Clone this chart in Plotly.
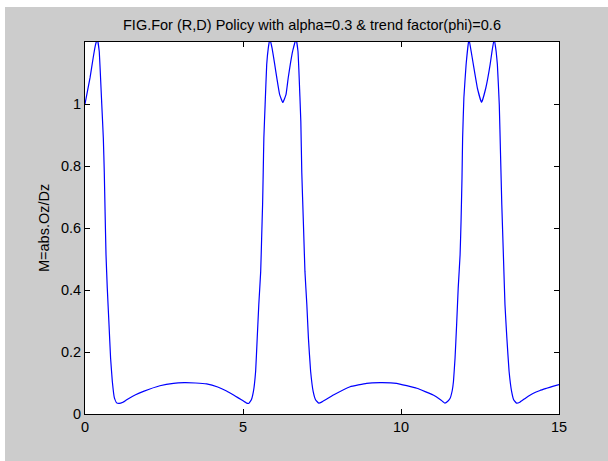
import plotly.graph_objects as go

# frequency (x) and magnitude M (y)
x_vals = [0, 0.16, 0.26, 0.33, 0.39, 0.45, 0.53, 0.58, 0.61, 0.635, 0.665, 0.705, 0.76, 0.81, 0.865, 0.93, 1.0, 1.08,
          1.2, 1.32, 1.6, 1.85, 2.37, 2.8, 3.14, 3.5, 3.85, 4.2, 4.48, 4.75, 4.95, 5.1, 5.18,
          5.26, 5.33, 5.40, 5.45, 5.50, 5.56, 5.59, 5.62, 5.64, 5.66, 5.70, 5.75, 5.80, 5.85, 5.92, 6.0, 6.07, 6.16, 6.26,
          6.36, 6.43, 6.50, 6.57, 6.68, 6.74, 6.77, 6.83, 6.86, 6.91, 6.96, 7.02, 7.07, 7.14, 7.22, 7.30, 7.40,
          7.5, 7.86, 8.39, 8.91, 9.34, 9.86, 10.5, 11.02, 11.25, 11.39,
          11.48, 11.55, 11.62, 11.66, 11.71, 11.76, 11.81, 11.87, 11.90, 11.93, 11.95, 11.99, 12.06, 12.15, 12.22, 12.29,
          12.42, 12.55, 12.68, 12.82, 12.88, 12.95, 13.01, 13.05, 13.11, 13.15, 13.19, 13.24, 13.29, 13.35, 13.42, 13.50,
          13.57, 13.66,
          13.76, 13.95, 14.19, 14.4, 14.61, 14.8, 15.0]
m_vals = [1.0, 1.085, 1.15, 1.19, 1.21, 1.17, 1.0, 0.89, 0.78, 0.654, 0.514, 0.406, 0.288, 0.18, 0.105, 0.052, 0.036, 0.034,
          0.038, 0.046, 0.062, 0.073, 0.091, 0.099, 0.101, 0.1, 0.097, 0.087, 0.074, 0.058, 0.046, 0.036, 0.034,
          0.045, 0.073, 0.138, 0.245, 0.353, 0.46, 0.568, 0.675, 0.78, 0.89, 0.998, 1.127, 1.18, 1.21, 1.18, 1.13, 1.084, 1.03, 1.005,
          1.03, 1.084, 1.13, 1.17, 1.21, 1.17, 1.105, 0.944, 0.78, 0.62, 0.46, 0.353, 0.245, 0.138, 0.073, 0.045, 0.035,
          0.039, 0.061, 0.088, 0.099, 0.101, 0.099, 0.083, 0.061, 0.046, 0.035,
          0.041, 0.05, 0.075, 0.105, 0.18, 0.288, 0.406, 0.514, 0.62, 0.76, 0.89, 1.02, 1.127, 1.21, 1.17, 1.127,
          1.05, 1.005, 1.05, 1.127, 1.17, 1.21, 1.17, 1.127, 0.998, 0.836, 0.675, 0.514, 0.353, 0.245, 0.138, 0.073,
          0.045, 0.035,
          0.038, 0.052, 0.067, 0.076, 0.083, 0.089, 0.095]

x_ticks = [0, 5, 10, 15]
y_ticks = [0, 0.2, 0.4, 0.6, 0.8, 1]
y_tick_text = ["0", "0.2", "0.4", "0.6", "0.8", "1"]

title_text = "FIG.For (R,D) Policy with alpha=0.3 & trend factor(phi)=0.6"
ylabel_text = "M=abs.Oz/Dz"

W, H = 608, 461
L, R, T, B = 85, 49, 42, 47
pw, ph = W - L - R, H - T - B

fig = go.Figure()
fig.add_trace(go.Scatter(x=x_vals, y=m_vals, mode="lines",
                         line=dict(color="#0000ff", width=1.2, shape="spline", smoothing=0.3),
                         hoverinfo="skip", showlegend=False, cliponaxis=True))

font = dict(family="Liberation Sans, Arial, sans-serif", size=14.5, color="#000000")
axis_common = dict(showline=True, linecolor="#000000", linewidth=1, mirror="ticks",
                   ticks="inside", ticklen=5, tickcolor="#000000", showgrid=False,
                   zeroline=False, tickfont=font)

fig.update_layout(
    width=W, height=H,
    margin=dict(l=L, r=R, t=T, b=B),
    paper_bgcolor="#cccccc", plot_bgcolor="#ffffff",
    xaxis=dict(range=[0, 15], tickvals=x_ticks, ticktext=[str(v) for v in x_ticks], **axis_common),
    yaxis=dict(range=[0, 1.2], tickvals=y_ticks, ticktext=y_tick_text, **axis_common),
    shapes=[
        dict(type="rect", xref="paper", yref="paper", x0=-L / pw, x1=(W - L) / pw,
             y0=1 + (T - 7) / ph, y1=1 + T / ph, fillcolor="#ffffff", line=dict(width=0), layer="below"),
        dict(type="rect", xref="paper", yref="paper", x0=-L / pw, x1=-(L - 5) / pw,
             y0=-B / ph, y1=1 + T / ph, fillcolor="#ffffff", line=dict(width=0), layer="below"),
    ],
    annotations=[
        dict(text=title_text, xref="paper", yref="paper", x=(312 - L) / pw, y=1 + (T - 25) / ph,
             xanchor="center", yanchor="middle", showarrow=False, font=font),
        dict(text=ylabel_text, xref="paper", yref="paper", x=-(L - 44) / pw, y=0.5,
             xanchor="center", yanchor="middle", textangle=-90, showarrow=False, font=font),
    ],
)

fig.write_html("out.html")
